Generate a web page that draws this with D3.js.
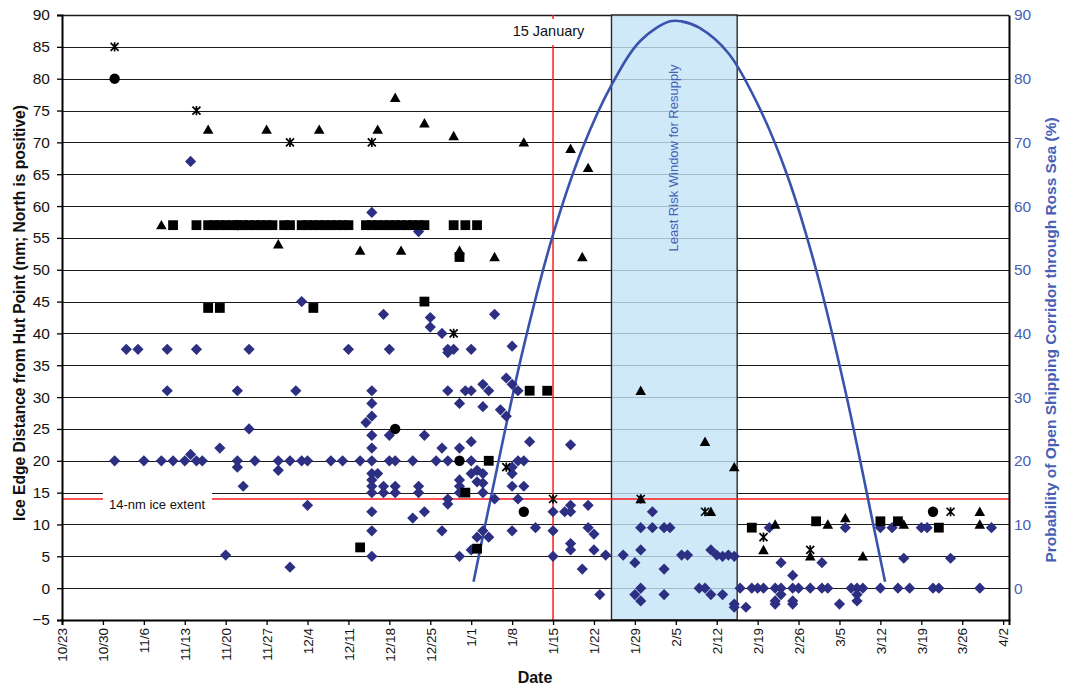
<!DOCTYPE html>
<html>
<head>
<meta charset="utf-8">
<script src="https://cdn.jsdelivr.net/npm/d3@7"></script>
<style>
  body { margin: 0; background: #fff; }
  svg { display: block; }
  text { font-family: Arial, "Liberation Sans", sans-serif; }
</style>
</head>
<body>
<svg id="chart" width="1065" height="689"></svg>
<script>
// ---- Axis ticks ----
const dateTicks = ["10/23","10/30","11/6","11/13","11/20","11/27","12/4","12/11","12/18","12/25",
  "1/1","1/8","1/15","1/22","1/29","2/5","2/12","2/19","2/26","3/5","3/12","3/19","3/26","4/2"];
const distanceTicks = [-5,0,5,10,15,20,25,30,35,40,45,50,55,60,65,70,75,80,85,90];
const probabilityTicks = [0,10,20,30,40,50,60,70,80,90];

// ---- Ice edge observations, one list per marker style: [date, nm] ----
const diamondObs = [
  ["11/14",67],["12/3",45],["11/3",37.5],["11/5",37.5],["11/10",37.5],["11/15",37.5],["11/24",37.5],
  ["11/10",31],["11/22",31],["12/2",31],["11/24",25],["11/19",22],["11/22",57],["12/15",59],["12/23",56],
  ["11/1",20],["11/6",20],["11/9",20],["11/11",20],["11/13",20],["11/15",20],["11/16",20],["11/22",20],
  ["11/25",20],["11/29",20],["12/1",20],["12/3",20],["12/4",20],["12/8",20],["12/10",20],["12/13",20],
  ["12/15",20],["12/18",20],["12/19",20],["12/22",20],["12/26",20],["12/28",20],["1/1",20],["1/9",20],["1/10",20],
  ["11/14",21],["11/22",19],["11/23",16],["11/29",18.5],["12/4",13],["11/20",5.2],["12/1",3.3],
  ["12/17",43],["12/25",42.5],["12/25",41],["12/27",40],["1/5",43],
  ["12/11",37.5],["12/18",37.5],["12/28",37.5],["12/28",37],["12/29",37.5],["1/1",37.5],["1/8",38],
  ["12/15",31],["12/15",29],["12/15",27],["12/14",26],["12/15",24],["12/15",22],["12/18",24],["12/24",24],
  ["12/27",22],["12/30",22],["1/1",23],
  ["12/28",31],["12/31",31],["1/1",31],["1/3",32],["1/4",31],["12/30",29],["1/3",28.5],["1/6",28],["1/7",27],
  ["1/7",33],["1/8",32],["1/9",31],["1/11",23],["1/18",22.5],["1/8",19],["1/8",18],
  ["12/15",18],["12/16",18],["12/15",17],["12/15",16],["12/17",16],["12/19",16],["12/23",16],["12/15",15],
  ["12/17",15],["12/19",15],["12/23",15],["12/30",17],["12/30",16],["12/30",15],["1/1",18],["1/2",18.5],
  ["1/3",18],["1/2",16.7],["1/3",16.5],["1/3",15],["1/5",14],["1/8",16],["1/10",16],["1/9",14],["12/28",14],["12/28",13.2],
  ["12/15",12],["12/24",12],["12/22",11],["12/15",9],["12/27",9],["1/8",9],["1/12",9.5],["1/3",9],["1/2",8],
  ["1/4",8],["1/1",6],["12/30",5],["12/15",5],
  ["1/15",12],["1/15",9],["1/15",5],["1/17",12],["1/18",13],["1/18",12],["1/21",13],["1/18",7],["1/18",6],
  ["1/21",9.5],["1/22",8.5],["1/22",6],["1/20",3],["1/24",5.2],["1/23",-1],
  ["1/27",5.2],["1/29",4],["1/30",6],["1/30",9.5],["2/1",9.5],["2/1",12],["2/3",9.5],["2/4",9.5],["2/3",3],
  ["1/29",-1],["1/30",0],["1/30",-2],["2/3",-1],["2/6",5.2],["2/7",5.2],["2/9",0],["2/10",0],["2/11",-1],
  ["2/13",-1],["2/11",6],["2/12",5.2],["2/13",5],["2/14",5.2],["2/15",5],["2/15",-2.5],["2/15",-3],
  ["2/17",-3],["2/16",0],["2/18",0],["2/19",0],["2/20",0],["2/21",9.5],["2/22",0],["2/22",-2],["2/22",-2.5],
  ["2/23",4],["2/23",0],["2/23",-1],["2/25",2],["2/25",0],["2/25",-2],["2/25",-2.5],["2/26",0],["2/28",0],
  ["3/2",4],["3/2",0],["3/3",0],["3/5",-2.5],["3/6",9.5],["3/7",0],["3/8",0],["3/8",-1],["3/8",-2],["3/9",0],
  ["3/12",0],["3/12",9.5],["3/14",9.5],["3/19",9.5],["3/20",9.5],["3/31",9.5],["3/16",4.7],["3/24",4.7],
  ["3/15",0],["3/17",0],["3/21",0],["3/22",0],["3/29",0]
];
const squareObs = [
  ["11/11",57],["11/15",57],["11/17",57],["11/18",57],["11/19",57],["11/20",57],["11/21",57],["11/22",57],
  ["11/23",57],["11/24",57],["11/25",57],["11/26",57],["11/27",57],["11/28",57],["11/30",57],["12/1",57],
  ["12/3",57],["12/4",57],["12/5",57],["12/6",57],["12/7",57],["12/8",57],["12/9",57],["12/10",57],["12/11",57],
  ["12/14",57],["12/15",57],["12/16",57],["12/17",57],["12/18",57],["12/19",57],["12/20",57],["12/21",57],
  ["12/22",57],["12/23",57],["12/24",57],["12/29",57],["12/31",57],["1/2",57],
  ["11/17",44],["11/19",44],["12/5",44],["12/24",45],["12/30",52],["1/11",31],["1/14",31],["1/4",20],
  ["12/31",15],["12/13",6.4],["1/2",6.2],["2/18",9.5],["3/1",10.5],["3/12",10.5],["3/15",10.5],["3/22",9.5]
];
const triangleObs = [
  ["11/9",57],["11/17",72],["11/27",72],["12/6",72],["12/16",72],["12/19",77],["12/24",73],["12/29",71],
  ["1/10",70],["1/18",69],["1/21",66],["11/29",54],["12/13",53],["12/20",53],["12/30",53],["1/5",52],["1/20",52],
  ["1/30",31],["1/30",14],["2/10",23],["2/15",19],["2/11",12],["2/22",10],["2/20",6],["2/28",5],["3/3",10],
  ["3/6",11],["3/9",5],["3/16",10],["3/29",12],["3/29",10]
];
const circleObs = [["11/1",80],["12/19",25],["12/30",20],["1/10",12],["3/21",12]];
const starObs = [
  ["11/1",85],["11/15",75],["12/1",70],["12/15",70],["12/29",40],["1/7",19],["1/15",14],["1/30",14],
  ["2/10",12],["2/20",8],["2/28",6],["3/24",12]
];

// ---- Probability of an open shipping corridor (%) ----
const corridorDates = ["1/1.4","1/5","1/10","1/15","1/20","1/25","1/30","2/4","2/6","2/9","2/14","2/19","2/24","3/1","3/6","3/11","3/12.8"];
const corridorPct = [1,17,38,55.5,69,79,86,89,89,88,84,76,65,50,31,9,1];

// ---- Reference markers ----
const resupplyWindow = ["1/25","2/15.5"];
const targetDate = "1/15";
const iceExtentNm = 14;

// month/day -> Date in the 2006-07 season (fractional days allowed)
function parseMD(s) {
  const [m, d] = s.split("/").map(Number);
  const base = new Date(m >= 10 ? 2006 : 2007, m - 1, Math.floor(d));
  return d3.timeMinute.offset(base, Math.round((d % 1) * 1440));
}

const svg = d3.select("#chart");
const L = 62, R = 1009, T = 15, B = 620;

const x = d3.scaleTime().domain([new Date(2006, 9, 23), new Date(2007, 3, 3)]).range([L, R]);
const y = d3.scaleLinear().domain([-5, 90]).range([B, T]);
const yRight = d3.scaleLinear().domain([-5, 90]).range([B, T]);

const font = "Arial, 'Liberation Sans', sans-serif";
const blue = "#4760b5";

// horizontal gridlines
svg.append("g").selectAll("line").data(distanceTicks.filter(v => v > -5))
  .join("line")
  .attr("x1", L).attr("x2", R)
  .attr("y1", d => Math.round(y(d)) + 0.5).attr("y2", d => Math.round(y(d)) + 0.5)
  .attr("stroke", "#1a1a1a").attr("stroke-width", d => d === 90 ? 1.6 : 1.1);

// least-risk resupply window
const wx0 = x(parseMD(resupplyWindow[0])), wx1 = x(parseMD(resupplyWindow[1]));
svg.append("rect")
  .attr("x", wx0).attr("y", y(90)).attr("width", wx1 - wx0).attr("height", y(-5) - y(90))
  .attr("fill", "#c4e3f7").attr("fill-opacity", 0.8)
  .attr("stroke", "#2a2a2a").attr("stroke-width", 1.4);
svg.append("text")
  .attr("transform", `translate(${(wx0 + wx1) / 2 + 4},158) rotate(-90)`)
  .attr("text-anchor", "middle")
  .attr("font-size", 13).attr("fill", blue)
  .text("Least Risk Window for Resupply");

// 14-nm ice extent line
const yIce = y(iceExtentNm);
svg.append("line").attr("x1", L).attr("x2", R).attr("y1", yIce).attr("y2", yIce)
  .attr("stroke", "#ff1a1a").attr("stroke-width", 1.5);
svg.append("rect").attr("x", 103).attr("y", yIce - 6).attr("width", 109).attr("height", 21).attr("fill", "#fff");
svg.append("text").attr("x", 157).attr("y", yIce + 10).attr("text-anchor", "middle")
  .attr("font-size", 13).attr("fill", "#111").text("14-nm ice extent");

// 15 January line
const xJan = x(parseMD(targetDate));
svg.append("line").attr("x1", xJan).attr("x2", xJan).attr("y1", T).attr("y2", B)
  .attr("stroke", "#ff1a1a").attr("stroke-width", 1.5);
svg.append("rect").attr("x", xJan - 46).attr("y", 19).attr("width", 84).attr("height", 26).attr("fill", "#fff");
svg.append("text").attr("x", 548.5).attr("y", 36).attr("text-anchor", "middle")
  .attr("font-size", 14.5).attr("fill", "#111").text("15 January");

// corridor probability curve
const corridor = corridorDates.map((d, i) => [parseMD(d), corridorPct[i]]);
svg.append("path").datum(corridor)
  .attr("fill", "none").attr("stroke", "#3953ad").attr("stroke-width", 2.6)
  .attr("d", d3.line().x(d => x(d[0])).y(d => yRight(d[1])).curve(d3.curveCatmullRom.alpha(0.5)));

// observation markers
const shapes = {
  diamond: "M0,-5.6L5.6,0L0,5.6L-5.6,0Z",
  square: "M-4.9,-4.9H4.9V4.9H-4.9Z",
  triangle: "M0,-5.2L5.3,4.2L-5.3,4.2Z",
  star: "M-4,-4L4,4M-4,4L4,-4M0,-4.6V4.6"
};
function drawMarks(data, path, fill, stroke) {
  svg.append("g").selectAll("path").data(data).join("path")
    .attr("transform", d => `translate(${x(parseMD(d[0]))},${y(d[1])})`)
    .attr("d", path)
    .attr("fill", fill).attr("stroke", stroke || "none")
    .attr("stroke-width", stroke ? 1.7 : 0);
}
drawMarks(diamondObs, shapes.diamond, "#2c2f82");
drawMarks(squareObs, shapes.square, "#000");
drawMarks(triangleObs, shapes.triangle, "#000");
drawMarks(starObs, shapes.star, "none", "#000");
svg.append("g").selectAll("circle").data(circleObs).join("circle")
  .attr("cx", d => x(parseMD(d[0]))).attr("cy", d => y(d[1])).attr("r", 5.2).attr("fill", "#000");

// left axis
const gLeft = svg.append("g").attr("transform", `translate(${L},0)`)
  .call(d3.axisLeft(y).tickValues(distanceTicks).tickSize(5).tickPadding(7).tickFormat(d3.format("d")));
gLeft.select(".domain").attr("stroke", "#000").attr("stroke-width", 2);
gLeft.selectAll(".tick line").attr("stroke", "#000").attr("stroke-width", 1.3);
gLeft.selectAll("text").attr("font-size", 15.5).attr("font-family", font).attr("fill", "#111");

// right axis
const gRight = svg.append("g").attr("transform", `translate(${R},0)`)
  .call(d3.axisRight(yRight).tickValues(probabilityTicks).tickSize(0).tickPadding(5));
gRight.select(".domain").attr("stroke", "#000").attr("stroke-width", 2);
gRight.selectAll("text").attr("font-size", 15.5).attr("font-family", font).attr("fill", blue);

// bottom axis
const gBottom = svg.append("g").attr("transform", `translate(0,${B})`)
  .call(d3.axisBottom(x).tickValues(dateTicks.map(parseMD)).tickSize(5).tickFormat((d, i) => dateTicks[i]));
gBottom.select(".domain").attr("stroke", "#000").attr("stroke-width", 2);
gBottom.selectAll(".tick line").attr("stroke", "#000").attr("stroke-width", 1.3);
gBottom.selectAll("text")
  .attr("transform", "rotate(-90)")
  .attr("x", -8).attr("y", 0).attr("dy", "0.35em")
  .attr("text-anchor", "end")
  .attr("font-size", 13.5).attr("font-family", font).attr("fill", "#111");

// axis titles
svg.append("text").attr("transform", "translate(24.5,313) rotate(-90)")
  .attr("text-anchor", "middle").attr("font-size", 15.6).attr("font-weight", "bold").attr("fill", "#111")
  .text("Ice Edge Distance from Hut Point (nm; North is positive)");
svg.append("text").attr("transform", "translate(1056,340) rotate(-90)")
  .attr("text-anchor", "middle").attr("font-size", 15.5).attr("font-weight", "bold").attr("fill", blue)
  .text("Probability of Open Shipping Corridor through Ross Sea (%)");
svg.append("text").attr("x", 535).attr("y", 683)
  .attr("text-anchor", "middle").attr("font-size", 16).attr("font-weight", "bold").attr("fill", "#111")
  .text("Date");
</script>
</body>
</html>
